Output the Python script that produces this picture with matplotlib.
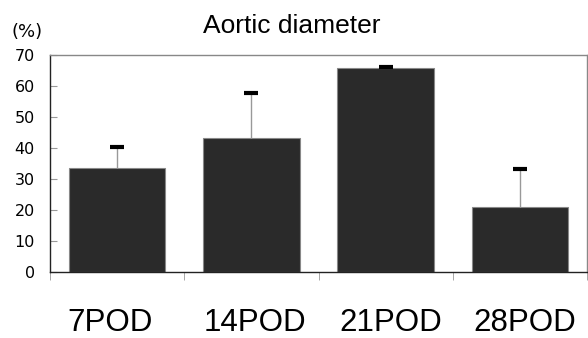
import matplotlib
matplotlib.use("Agg")
import matplotlib.pyplot as plt
from matplotlib.transforms import ScaledTranslation
import numpy as np

categories = ["7POD", "14POD", "21POD", "28POD"]
values = [33.5, 43.2, 65.8, 20.9]
err_top = [40.4, 57.8, 66.0, 33.3]
yticks = [0, 10, 20, 30, 40, 50, 60, 70]

plt.rcParams['font.family'] = ['Liberation Sans', 'DejaVu Sans']

fig = plt.figure(figsize=(5.88, 3.38), dpi=100)
ax = fig.add_axes([50/588, 1-272/338, 537/588, 217/338])

x = np.arange(len(categories))
errs = np.array(err_top) - np.array(values)
ax.bar(x, values, width=0.72, color='#2a2a2a', edgecolor='#888888', linewidth=0.8, zorder=2)
ax.errorbar(x, values, yerr=[np.zeros_like(errs), errs], fmt='none', ecolor='#999999',
            elinewidth=1.0, capsize=0, zorder=3)
ax.plot(x, err_top, linestyle='none', marker='_', markersize=10, markeredgewidth=3,
        color='black', zorder=4)

ax.set_xlim(-0.5, 3.5)
ax.set_ylim(0, 70)
ax.set_yticks(yticks)
ax.set_yticklabels([str(t) for t in yticks], fontsize=11.5, family='DejaVu Sans')
ax.tick_params(axis='y', direction='in', length=5, color='#999999', pad=11)

ax.set_xticks(x)
ax.set_xticklabels(categories, fontsize=22.5)
ax.tick_params(axis='x', which='major', length=0, pad=26)
ax.set_xticks([-0.5, 0.5, 1.5, 2.5, 3.5], minor=True)
ax.tick_params(axis='x', which='minor', direction='out', length=6, color='#999999')

# small horizontal label offsets as in the reference (pixels)
shifts = [-7, 4, 5, 5]
for lbl, dx in zip(ax.get_xticklabels(), shifts):
    lbl.set_transform(lbl.get_transform() + ScaledTranslation(dx/100, 0, fig.dpi_scale_trans))

for s in ['left', 'bottom']:
    ax.spines[s].set_color('#222222')
    ax.spines[s].set_linewidth(1.0)
for s in ['top', 'right']:
    ax.spines[s].set_color('#888888')
    ax.spines[s].set_linewidth(1.0)

fig.text(292/588, 1-26/338, "Aortic diameter", fontsize=19, ha='center', va='center')
fig.text(27/588, 1-32/338, "(%)", fontsize=13, ha='center', va='center', family='DejaVu Sans')

fig.savefig("out.png", dpi=100)
